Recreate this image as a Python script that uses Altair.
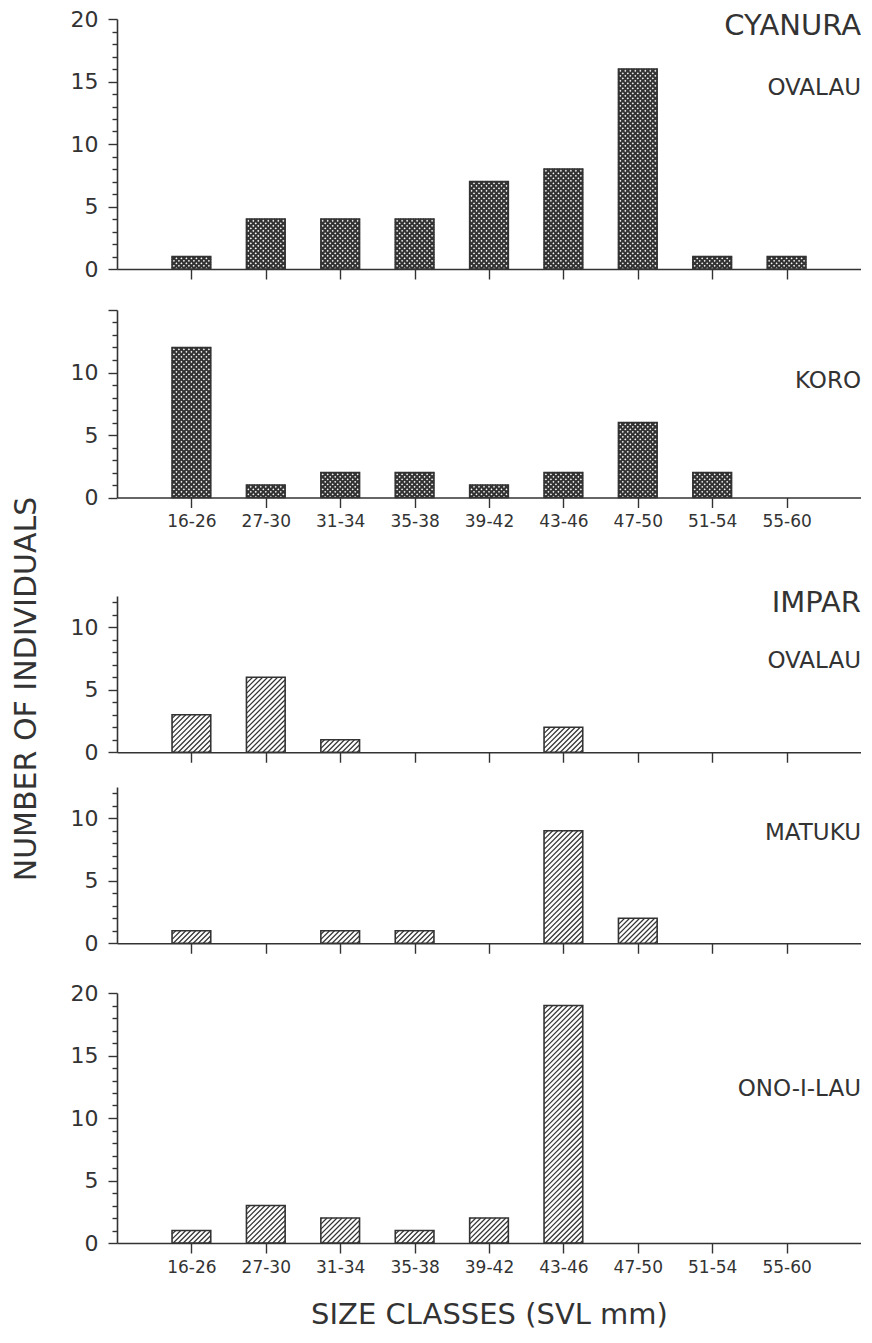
import json
import altair as alt
import pandas as pd

# ---------------- data ----------------
classes = ["16-26", "27-30", "31-34", "35-38", "39-42", "43-46", "47-50", "51-54", "55-60"]
cyanura_ovalau = [1, 4, 4, 4, 7, 8, 16, 1, 1]
cyanura_koro = [12, 1, 2, 2, 1, 2, 6, 2, 0]
impar_ovalau = [3, 6, 1, 0, 0, 2, 0, 0, 0]
impar_matuku = [1, 0, 1, 1, 0, 9, 2, 0, 0]
impar_onoilau = [1, 3, 2, 1, 2, 19, 0, 0, 0]

labels_20 = [0, 5, 10, 15, 20]
labels_10 = [0, 5, 10]

# ---------------- style ----------------
W = 744
PX_X = W / 10
PX_Y = 12.5
HALF = 0.26
INK = "#333333"
FONT = "DejaVu Sans"


def hatch_rows(values, slopes, step):
    """Hatch segments inside each bar, derived from the bar values."""
    rows = []
    wpx = 2 * HALF * PX_X
    for i, v in enumerate(values):
        if v <= 0:
            continue
        left = (i + 1) - HALF
        hpx = v * PX_Y
        for s in slopes:
            if s > 0:
                c = -wpx + step / 2
                while c < hpx:
                    xa = max(0.0, -c)
                    xb = min(wpx, hpx - c)
                    if xb > xa:
                        rows.append({"hx1": left + xa / PX_X, "hx2": left + xb / PX_X,
                                     "hy1": (xa + c) / PX_Y, "hy2": (xb + c) / PX_Y})
                    c += step
            else:
                c = step / 2
                while c < wpx + hpx:
                    xa = max(0.0, c - hpx)
                    xb = min(wpx, c)
                    if xb > xa:
                        rows.append({"hx1": left + xa / PX_X, "hx2": left + xb / PX_X,
                                     "hy1": (c - xa) / PX_Y, "hy2": (c - xb) / PX_Y})
                    c += step
    return pd.DataFrame(rows)


def panel(values, ymax, label_vals, slopes, step, hatch_w, texts, show_labels, x_title=None):
    H = ymax * PX_Y
    df = pd.DataFrame({"pos": list(range(1, 10)), "cls": classes, "value": values})
    df = df[df["value"] > 0]
    xs = alt.Scale(domain=[0, 10], nice=False, zero=False)
    ys = alt.Scale(domain=[0, ymax], nice=False, zero=True)

    x_kw = dict(values=list(range(1, 10)), tickSize=10, labels=show_labels, grid=False,
                labelExpr=json.dumps(classes) + "[datum.value - 1]",
                labelFontSize=17, labelPadding=6)
    if x_title:
        x_kw.update(title=x_title, titleFontSize=29, titlePadding=25,
                    titleFontWeight="normal", titleFont=FONT, titleColor=INK)
    else:
        x_kw["title"] = None
    x_axis = alt.Axis(**x_kw)

    test = "indexof(" + json.dumps(label_vals) + ", datum.value) >= 0"
    y_axis = alt.Axis(
        values=list(range(0, int(ymax) + 1)),
        tickSize={"condition": {"test": "datum.value % 5 === 0", "value": 9}, "value": 5},
        labelExpr=test + " ? datum.label : ''",
        title=None, grid=False, labelFontSize=22, labelPadding=10,
    )

    hat = hatch_rows(values, slopes, step)
    hatch_layer = alt.Chart(hat).mark_rule(color=INK, strokeWidth=hatch_w).encode(
        x=alt.X("hx1:Q", scale=xs, axis=x_axis),
        x2="hx2:Q",
        y=alt.Y("hy1:Q", scale=ys, axis=y_axis),
        y2="hy2:Q",
    )
    outline = alt.Chart(df).transform_calculate(
        x0=f"datum.pos - {HALF}", x1=f"datum.pos + {HALF}", zero="0"
    ).mark_rect(fillOpacity=0, stroke=INK, strokeWidth=1.6).encode(
        x=alt.X("x0:Q", scale=xs, axis=x_axis),
        x2="x1:Q",
        y=alt.Y("value:Q", scale=ys, axis=y_axis),
        y2="zero:Q",
    )
    layers = [hatch_layer, outline]
    for t, yy, size in texts:
        layers.append(
            alt.Chart(pd.DataFrame({"t": [t]})).mark_text(
                align="right", baseline="middle", fontSize=size, font=FONT, color=INK
            ).encode(text="t:N", x=alt.value(W), y=alt.value(yy))
        )
    return alt.layer(*layers).properties(width=W, height=H)


CROSS = ([1, -1], 5.0, 2.0)
DIAG = ([1], 5.0, 1.2)

p1 = panel(cyanura_ovalau, 20, labels_20, *CROSS,
           texts=[("CYANURA", 7, 29), ("OVALAU", 69, 23)], show_labels=False)
p2 = panel(cyanura_koro, 15, labels_10, *CROSS,
           texts=[("KORO", 71, 23)], show_labels=True)
p3 = panel(impar_ovalau, 12.5, labels_10, *DIAG,
           texts=[("IMPAR", 7, 29), ("OVALAU", 65, 23)], show_labels=False)
p4 = panel(impar_matuku, 12.5, labels_10, *DIAG,
           texts=[("MATUKU", 46, 23)], show_labels=False)
p5 = panel(impar_onoilau, 20, labels_20, *DIAG,
           texts=[("ONO-I-LAU", 96, 23)], show_labels=True, x_title="SIZE CLASSES (SVL mm)")

ytitle = alt.Chart(pd.DataFrame({"t": ["NUMBER OF INDIVIDUALS"]})).mark_text(
    angle=270, fontSize=30, font=FONT, color=INK, baseline="middle", align="center"
).encode(text="t:N", x=alt.value(19), y=alt.value(670)).properties(width=38, height=1230)

stack = alt.vconcat(p1, p2, spacing=29)
stack = alt.vconcat(stack, p3, spacing=59)
stack = alt.vconcat(stack, p4, spacing=23)
stack = alt.vconcat(stack, p5, spacing=27)

chart = alt.hconcat(ytitle, stack, spacing=24).properties(
    padding={"left": 0, "top": 0, "right": 0, "bottom": 0}
).configure_view(stroke=None).configure_axis(
    domainColor=INK, domainWidth=1.6, tickColor=INK, tickWidth=1.4,
    labelColor=INK, labelFont=FONT, titleFont=FONT, titleColor=INK,
)

chart.save("out.html", embed_options={"renderer": "svg", "actions": False})
